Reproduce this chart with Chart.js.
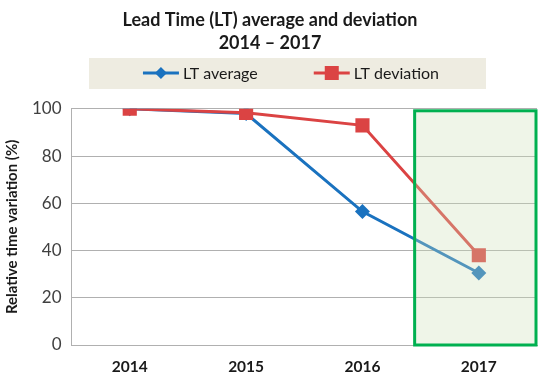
<!DOCTYPE html>
<html>
<head>
<meta charset="utf-8">
<script src="https://cdn.jsdelivr.net/npm/chart.js@4"></script>
<style>
html,body{margin:0;padding:0;background:#fff;}
#wrap{width:550px;height:382px;}
</style>
</head>
<body>
<div id="wrap"><canvas id="c" width="550" height="382"></canvas></div>
<script>
const years = ['2014', '2015', '2016', '2017'];
const ltAverage = [100, 98, 56.5, 30.5];
const ltDeviation = [100, 98.3, 93, 38];
const yTicks = [0, 20, 40, 60, 80, 100];
const titleLines = ['Lead Time (LT) average and deviation', '2014 \u2013 2017'];
const yTitle = 'Relative time variation (%)';
const highlightYear = '2017';

const BLUE = '#1a72bf';
const RED = '#db4343';
const FONT = 'Lato, "Open Sans", sans-serif';

const decorPlugin = {
  id: 'decor',
  beforeDraw(chart) {
    const ctx = chart.ctx;
    ctx.save();
    ctx.fillStyle = '#eeece1';
    ctx.fillRect(89, 58, 397, 31);
    ctx.font = '16px ' + FONT;
    ctx.textBaseline = 'middle';
    const ds = chart.data.datasets;
    const iconW = 36, gapT = 4, spacing = 56;
    const widths = ds.map(d => iconW + gapT + ctx.measureText(d.label).width);
    const total = widths.reduce((a, b) => a + b, 0) + spacing * (ds.length - 1);
    let x = 291 - total / 2;
    const cy = 73;
    ds.forEach((d, i) => {
      ctx.strokeStyle = d.borderColor;
      ctx.fillStyle = d.borderColor;
      ctx.lineWidth = 3;
      ctx.beginPath(); ctx.moveTo(x, cy); ctx.lineTo(x + iconW, cy); ctx.stroke();
      const mx = x + iconW / 2;
      if (d.pointStyle === 'rectRot') {
        ctx.beginPath(); ctx.moveTo(mx, cy - 6); ctx.lineTo(mx + 6, cy); ctx.lineTo(mx, cy + 6); ctx.lineTo(mx - 6, cy); ctx.closePath(); ctx.fill();
      } else {
        ctx.fillRect(mx - 7, cy - 7, 14, 14);
      }
      ctx.fillStyle = '#1a1a1a';
      ctx.fillText(d.label, x + iconW + gapT, cy + 1);
      x += widths[i] + spacing;
    });
    ctx.restore();
  },
  afterDatasetsDraw(chart) {
    const ctx = chart.ctx;
    const x = chart.scales.x, y = chart.scales.y;
    const idx = years.indexOf(highlightYear);
    const half = (x.getPixelForValue(1) - x.getPixelForValue(0)) / 2;
    const left = x.getPixelForValue(idx) - half - 6;
    const right = x.getPixelForValue(idx) + half - 1;
    const top = y.getPixelForValue(100) + 2;
    const bottom = y.getPixelForValue(0);
    ctx.save();
    ctx.fillStyle = 'rgba(206,224,182,0.32)';
    ctx.fillRect(left, top, right - left, bottom - top);
    ctx.strokeStyle = '#00b050';
    ctx.lineWidth = 3;
    ctx.strokeRect(left, top, right - left, bottom - top);
    ctx.restore();
  }
};

new Chart(document.getElementById('c'), {
  type: 'line',
  data: {
    labels: years,
    datasets: [
      {
        label: 'LT average',
        data: ltAverage,
        borderColor: BLUE,
        backgroundColor: BLUE,
        borderWidth: 3,
        pointStyle: 'rectRot',
        pointRadius: 7.5,
        pointBorderWidth: 0,
        order: 1
      },
      {
        label: 'LT deviation',
        data: ltDeviation,
        borderColor: RED,
        backgroundColor: RED,
        borderWidth: 3,
        pointStyle: 'rect',
        pointRadius: 10,
        pointBorderWidth: 0,
        order: 0
      }
    ]
  },
  options: {
    responsive: false,
    animation: false,
    layout: { padding: { left: 3, right: 13, top: 4, bottom: 0 } },
    plugins: {
      title: {
        display: true,
        text: titleLines,
        color: '#1a1a1a',
        font: { family: FONT, size: 18, weight: 'bold', lineHeight: 1.3 },
        padding: { top: 4, bottom: 54 }
      },
      legend: { display: false },
      tooltip: { enabled: false }
    },
    scales: {
      x: {
        offset: true,
        afterFit(scale) { scale.height = 37; },
        grid: { display: false, drawTicks: false },
        border: { display: true, color: '#b0b0b0', width: 1 },
        ticks: { color: '#1a1a1a', font: { family: FONT, size: 15.5, weight: 'bold' }, padding: 13 }
      },
      y: {
        min: 0,
        max: 100,
        afterBuildTicks(scale) { scale.ticks = yTicks.map(v => ({ value: v })); },
        grid: { color: '#b0b0b0', lineWidth: 1, drawTicks: false },
        border: { display: true, color: '#b0b0b0', width: 1 },
        ticks: { color: '#404040', font: { family: FONT, size: 17 }, padding: 10 },
        title: {
          display: true,
          text: yTitle,
          color: '#1a1a1a',
          font: { family: FONT, size: 15, weight: 'bold' },
          padding: { top: 0, bottom: 1 }
        }
      }
    }
  },
  plugins: [decorPlugin]
});
</script>
</body>
</html>
